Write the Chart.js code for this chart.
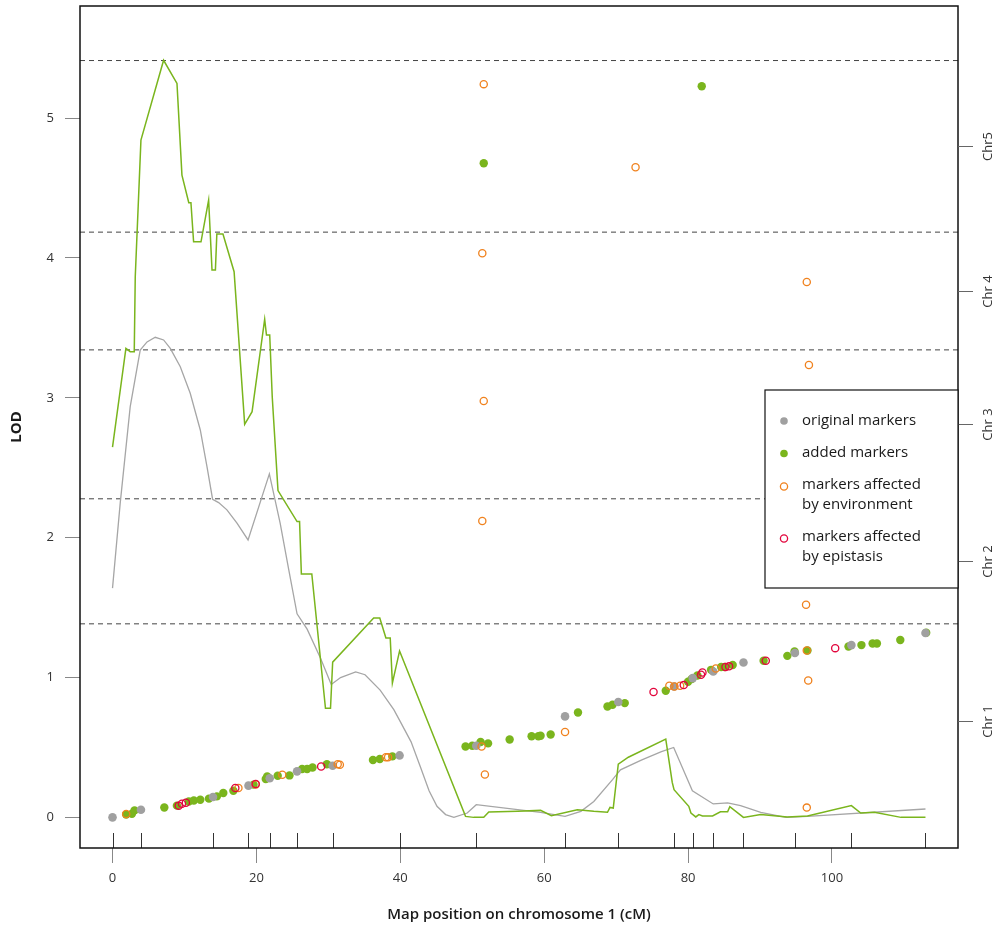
<!DOCTYPE html>
<html><head><meta charset="utf-8">
<script src="https://cdn.jsdelivr.net/npm/chart.js@4.4.1/dist/chart.umd.min.js"></script>
<style>html,body{margin:0;padding:0;background:#fff}canvas{display:block}</style>
</head><body>
<canvas id="c" width="999" height="926"></canvas>
<script>
// ---- tick labels / axes ----
const xTicks = [0, 20, 40, 60, 80, 100];
const yTicks = [0, 1, 2, 3, 4, 5];
const chrTickValues = [0.692, 1.831, 2.811, 3.764, 4.799];
const chrLabels = ['Chr 1', 'Chr 2', 'Chr 3', 'Chr 4', 'Chr5'];
const chrBoundaries = [1.384, 2.278, 3.343, 4.185, 5.412];
const xRange = [-4.52, 117.52];
const yRange = [-0.219, 5.802];
const xTitle = 'Map position on chromosome 1 (cM)';
const yTitle = 'LOD';
const legendLabels = [['original markers'], ['added markers'], ['markers affected', 'by environment'], ['markers affected', 'by epistasis']];

// ---- LOD curve, original markers (grey) ----
const lodOrigX = [0, 1.07, 2.46, 3.85, 4.8, 5.94, 7.1, 8.03, 9.42, 10.8, 12.2, 13.13, 13.91, 14.75, 15.9, 17.3, 18.84, 21.8, 23.3, 24.5, 25.65, 27.05, 28.9, 30.4, 31.7, 33.8, 35.1, 37.2, 39.1, 40.0, 41.5, 42.8, 44.0, 45.1, 46.3, 47.45, 49.3, 50.56, 59.5, 62.9, 65.1, 66.9, 69.5, 70.6, 73.5, 76.3, 78.0, 80.6, 83.5, 85.5, 87.3, 90.1, 93.6, 96.6, 113.0];
const lodOrigY = [1.639, 2.247, 2.937, 3.342, 3.40, 3.433, 3.414, 3.354, 3.223, 3.033, 2.77, 2.508, 2.275, 2.251, 2.199, 2.104, 1.984, 2.456, 2.104, 1.77, 1.456, 1.346, 1.14, 0.95, 1.0, 1.04, 1.02, 0.91, 0.77, 0.685, 0.54, 0.36, 0.19, 0.079, 0.02, 0.0, 0.031, 0.091, 0.036, 0.007, 0.043, 0.114, 0.27, 0.34, 0.41, 0.47, 0.50, 0.19, 0.096, 0.103, 0.084, 0.036, 0.0, 0.007, 0.06];

// ---- LOD curve, added markers (green) ----
const lodAddedX = [0, 1.86, 2.46, 3.02, 3.16, 3.95, 7.1, 8.96, 9.65, 10.6, 10.9, 11.27, 12.3, 13.36, 13.83, 14.3, 14.5, 15.35, 16.9, 18.37, 19.4, 21.15, 21.4, 21.85, 22.2, 23.0, 25.65, 26.0, 26.25, 27.7, 29.6, 30.3, 30.6, 36.3, 37.15, 38.0, 38.6, 38.9, 39.9, 49.07, 50.2, 51.6, 52.3, 56.3, 59.5, 61.0, 64.6, 66.9, 68.8, 69.15, 69.6, 70.3, 71.7, 76.9, 77.8, 78.05, 80.1, 80.4, 81.07, 81.5, 82.0, 83.4, 84.5, 85.5, 85.8, 87.7, 90.1, 93.8, 96.6, 102.7, 104.0, 105.9, 109.6, 113.0];
const lodAddedY = [2.647, 3.354, 3.33, 3.33, 3.866, 4.843, 5.414, 5.248, 4.593, 4.395, 4.395, 4.116, 4.116, 4.414, 3.914, 3.914, 4.171, 4.171, 3.902, 2.811, 2.901, 3.562, 3.449, 3.449, 3.008, 2.337, 2.115, 2.115, 1.741, 1.741, 0.78, 0.78, 1.11, 1.425, 1.425, 1.283, 1.283, 0.96, 1.19, 0.007, 0.0, 0.0, 0.038, 0.043, 0.05, 0.012, 0.055, 0.043, 0.036, 0.071, 0.067, 0.38, 0.43, 0.56, 0.25, 0.198, 0.079, 0.031, 0.003, 0.02, 0.01, 0.01, 0.04, 0.04, 0.076, 0.0, 0.02, 0.003, 0.01, 0.084, 0.031, 0.036, 0.0, 0.0];

// ---- marker points ----
const originalX = [0, 3.95, 13.97, 18.9, 21.85, 25.65, 30.6, 39.9, 50.56, 62.9, 70.3, 78.05, 80.65, 83.5, 87.7, 94.85, 102.7, 113.0];
const originalY = [0.0, 0.055, 0.146, 0.227, 0.28, 0.329, 0.369, 0.443, 0.512, 0.722, 0.825, 0.936, 0.996, 1.043, 1.108, 1.175, 1.232, 1.318];

const addedX = [1.9, 2.7, 3.06, 7.2, 8.95, 10.6, 11.3, 12.2, 13.4, 14.5, 15.4, 16.8, 19.6, 21.3, 21.5, 22.96, 24.6, 26.35, 27.05, 27.8, 29.8, 36.2, 37.15, 38.9, 49.07, 50.0, 51.16, 52.2, 55.2, 58.25, 59.2, 59.5, 60.9, 64.7, 68.8, 69.5, 71.2, 76.9, 80.0, 80.5, 81.3, 83.2, 84.6, 85.1, 86.2, 90.5, 93.8, 94.8, 96.6, 102.3, 104.1, 105.65, 106.25, 109.5, 113.1, 51.6, 81.9];
const addedY = [0.02, 0.026, 0.05, 0.071, 0.084, 0.114, 0.121, 0.126, 0.134, 0.15, 0.174, 0.19, 0.234, 0.274, 0.293, 0.298, 0.30, 0.346, 0.346, 0.357, 0.38, 0.41, 0.417, 0.436, 0.507, 0.512, 0.539, 0.529, 0.557, 0.58, 0.58, 0.584, 0.593, 0.75, 0.793, 0.805, 0.817, 0.905, 0.97, 0.99, 1.015, 1.055, 1.075, 1.075, 1.09, 1.12, 1.155, 1.186, 1.193, 1.222, 1.232, 1.243, 1.243, 1.268, 1.32, 4.677, 5.228];

const environmentX = [1.9, 17.5, 19.9, 23.6, 31.3, 31.6, 38.0, 38.3, 51.3, 51.76, 62.9, 77.4, 78.1, 78.9, 83.85, 96.5, 96.7, 96.5, 96.4, 96.8, 96.5, 72.7, 51.4, 51.6, 51.4, 51.6];
const environmentY = [0.024, 0.21, 0.235, 0.305, 0.38, 0.377, 0.43, 0.43, 0.507, 0.307, 0.61, 0.941, 0.936, 0.941, 1.065, 1.193, 0.979, 0.07, 1.52, 3.235, 3.828, 4.649, 2.119, 2.977, 4.034, 5.243];

const epistasisX = [9.2, 9.65, 10.2, 17.07, 19.9, 29.0, 75.2, 79.4, 81.8, 82.0, 85.2, 85.7, 90.8, 100.45];
const epistasisY = [0.084, 0.098, 0.105, 0.21, 0.239, 0.364, 0.896, 0.946, 1.02, 1.036, 1.075, 1.08, 1.12, 1.21];

// ---- styles ----
const GREEN = '#7ab51d', GREY_PT = '#a0a0a0', GREY_LINE = '#a6a6a6', ORANGE = '#f0821e', RED = '#e2053c';
const FONT = "'Open Sans', 'Noto Sans', sans-serif";

const pts = (xs, ys) => xs.map((x, i) => ({x, y: ys[i]}));

const datasets = [];
chrBoundaries.forEach(v => datasets.push({
  data: [{x: xRange[0], y: v}, {x: xRange[1], y: v}],
  showLine: true, pointRadius: 0, borderColor: '#444', borderWidth: 1, borderDash: [5, 4], order: 10
}));
datasets.push({data: pts(lodOrigX, lodOrigY), showLine: true, pointRadius: 0, borderColor: GREY_LINE, borderWidth: 1.3, tension: 0, order: 9});
datasets.push({data: pts(lodAddedX, lodAddedY), showLine: true, pointRadius: 0, borderColor: GREEN, borderWidth: 1.5, tension: 0, order: 8});
datasets.push({data: pts(addedX, addedY), pointRadius: 4.2, backgroundColor: GREEN, borderWidth: 0, order: 7});
datasets.push({data: pts(originalX, originalY), pointRadius: 4.3, backgroundColor: GREY_PT, borderWidth: 0, order: 6});
datasets.push({data: pts(environmentX, environmentY), pointRadius: 3.6, backgroundColor: 'rgba(0,0,0,0)', borderColor: ORANGE, borderWidth: 1.3, order: 5});
datasets.push({data: pts(epistasisX, epistasisY), pointRadius: 3.6, backgroundColor: 'rgba(0,0,0,0)', borderColor: RED, borderWidth: 1.3, order: 4});

const legendStyles = [
  {fill: GREY_PT, stroke: null, r: 3.8},
  {fill: GREEN, stroke: null, r: 3.8},
  {fill: null, stroke: ORANGE, r: 3.6},
  {fill: null, stroke: RED, r: 3.6}
];

const decorPlugin = {
  id: 'decor',
  afterDatasetsDraw(chart) {
    const {ctx, chartArea: ca, scales} = chart;
    const xs = scales.x, ys = scales.y;
    ctx.save();
    // rug ticks at original marker positions
    ctx.strokeStyle = '#333'; ctx.lineWidth = 1;
    originalX.forEach(v => {
      const px = Math.round(xs.getPixelForValue(v)) + 0.5;
      ctx.beginPath(); ctx.moveTo(px, ca.bottom); ctx.lineTo(px, ca.bottom - 15); ctx.stroke();
    });
    // frame
    ctx.strokeStyle = '#111'; ctx.lineWidth = 1.5;
    ctx.strokeRect(ca.left, ca.top, ca.right - ca.left, ca.bottom - ca.top);
    // right axis (chromosomes)
    ctx.strokeStyle = '#666'; ctx.lineWidth = 1;
    ctx.fillStyle = '#333'; ctx.font = '13px ' + FONT;
    ctx.textAlign = 'center'; ctx.textBaseline = 'middle';
    chrTickValues.forEach((v, i) => {
      const py = Math.round(ys.getPixelForValue(v)) + 0.5;
      ctx.beginPath(); ctx.moveTo(ca.right, py); ctx.lineTo(ca.right + 15, py); ctx.stroke();
      ctx.save(); ctx.translate(ca.right + 30, py); ctx.rotate(-Math.PI / 2);
      ctx.fillText(chrLabels[i], 0, 0); ctx.restore();
    });
    // legend
    const lw = 193, lh = 198;
    const lx = ca.right - lw, ly = 390;
    ctx.fillStyle = '#fff'; ctx.fillRect(lx, ly, lw, lh);
    ctx.strokeStyle = '#111'; ctx.lineWidth = 1.2;
    ctx.strokeRect(lx, ly, lw, lh);
    const itemY = [420.5, 453, 485, 537];
    ctx.font = '15px ' + FONT; ctx.textAlign = 'left'; ctx.textBaseline = 'middle';
    legendLabels.forEach((lines, i) => {
      const st = legendStyles[i];
      const sy = itemY[i] + (lines.length > 1 ? 1.5 : 0.5);
      ctx.beginPath(); ctx.arc(lx + 19, sy, st.r, 0, Math.PI * 2);
      if (st.fill) { ctx.fillStyle = st.fill; ctx.fill(); }
      if (st.stroke) { ctx.strokeStyle = st.stroke; ctx.lineWidth = 1.3; ctx.stroke(); }
      ctx.fillStyle = '#1a1a1a';
      lines.forEach((t, j) => ctx.fillText(t, lx + 37, itemY[i] + j * 20));
    });
    ctx.restore();
  }
};

new Chart(document.getElementById('c'), {
  type: 'scatter',
  data: {datasets},
  options: {
    responsive: false, animation: false, devicePixelRatio: 1,
    layout: {padding: {top: 6, right: 41, left: 0, bottom: 0}},
    plugins: {legend: {display: false}, tooltip: {enabled: false}},
    elements: {line: {borderCapStyle: 'butt', borderJoinStyle: 'miter'}},
    scales: {
      x: {
        type: 'linear', min: xRange[0], max: xRange[1],
        afterBuildTicks: s => { s.ticks = xTicks.map(v => ({value: v})); },
        afterFit: s => { s.height = 78; s.paddingLeft = 0; s.paddingRight = 0; },
        grid: {drawOnChartArea: false, drawTicks: true, tickLength: 15, color: '#888'},
        border: {display: false},
        ticks: {padding: 7, color: '#333', font: {family: FONT, size: 13}, maxRotation: 0, autoSkip: false},
        title: {display: true, text: xTitle, color: '#1a1a1a', font: {family: FONT, size: 15, weight: '600'}, padding: {top: 0, bottom: 2}}
      },
      y: {
        type: 'linear', min: yRange[0], max: yRange[1],
        afterBuildTicks: s => { s.ticks = yTicks.map(v => ({value: v})); },
        afterFit: s => { s.width = 80; s.paddingTop = 0; s.paddingBottom = 0; },
        grid: {drawOnChartArea: false, drawTicks: true, tickLength: 15, color: '#888'},
        border: {display: false},
        ticks: {padding: 11, color: '#333', font: {family: FONT, size: 13}, autoSkip: false},
        title: {display: true, text: yTitle, color: '#1a1a1a', font: {family: FONT, size: 15, weight: 'bold'}, padding: {top: 8, bottom: 0}}
      }
    }
  },
  plugins: [decorPlugin]
});
</script>
</body></html>
